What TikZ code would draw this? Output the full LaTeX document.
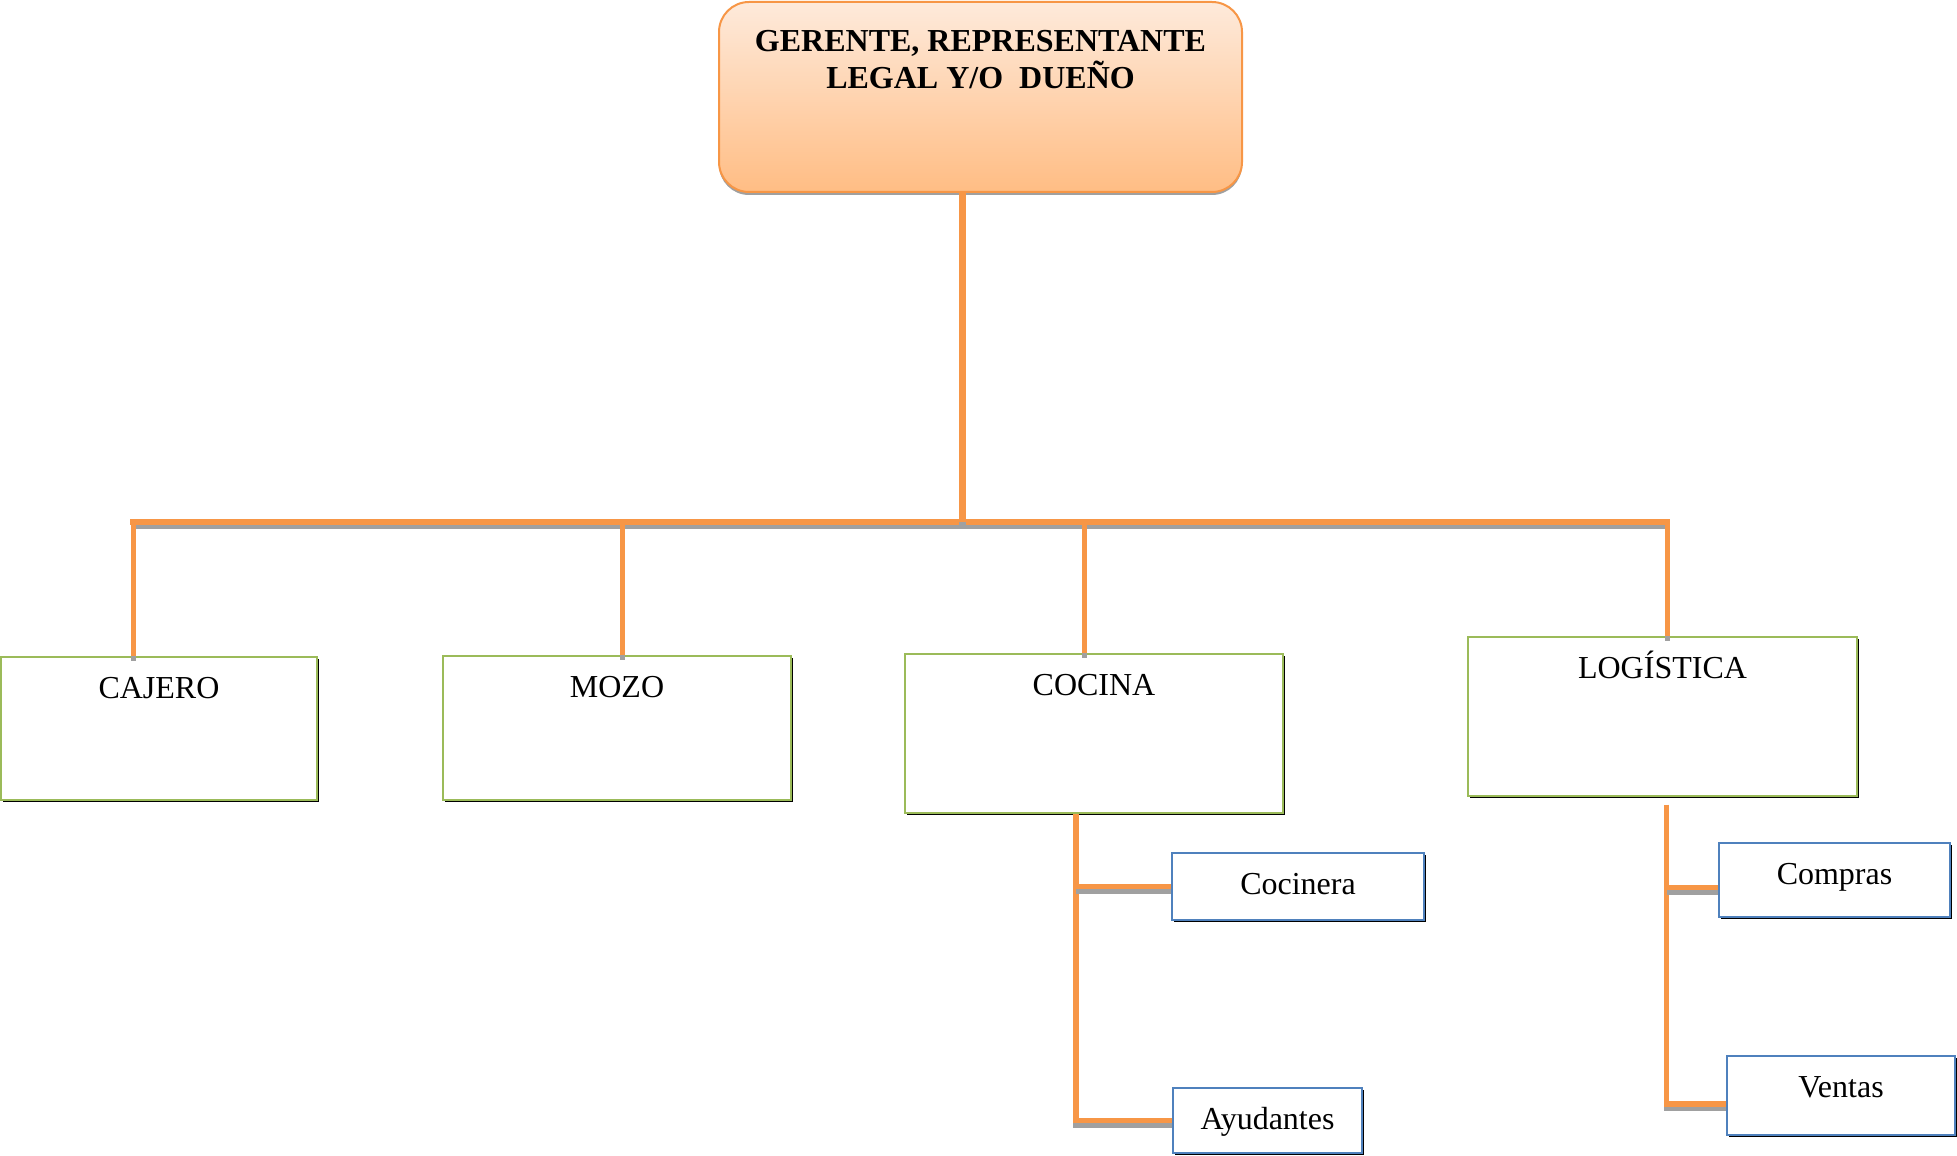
\documentclass[tikz,border=0pt]{standalone}
\usepackage{fontspec}
\setmainfont{Liberation Serif}
\usetikzlibrary{shadows}
\definecolor{orng}{HTML}{F79646}
\definecolor{shd}{HTML}{A0A0A0}
\definecolor{grn}{HTML}{9BBB59}
\definecolor{blu}{HTML}{4F81BD}
\definecolor{peachtop}{HTML}{FEEADB}
\definecolor{peachbot}{HTML}{FFBD84}
\begin{document}
\begin{tikzpicture}[x=0.5pt,y=-0.5pt,
  every label/.style={inner sep=0pt, font=\fontsize{16pt}{18pt}\selectfont},
  topbox/.style={draw=orng, line width=1pt, rounded corners=15pt,
    top color=peachtop, bottom color=peachbot,
    minimum width=261.5pt, minimum height=95pt, inner sep=0pt,
    drop shadow={shadow xshift=0pt, shadow yshift=-1.5pt, fill=shd, opacity=1}},
  unitbox/.style={draw=grn, line width=0.7pt, fill=white, inner sep=0pt,
    drop shadow={shadow xshift=1.2pt, shadow yshift=-1.2pt, fill=black, opacity=1}},
  subbox/.style={unitbox, draw=blu},
  ttl/.style={label={[anchor=base, yshift=-21pt]north:{#1}}},
  conn/.style={draw=orng, line width=#1,
    preaction={draw=shd, line width=#1, transform canvas={yshift=-2.2pt}}}
]
\useasboundingbox (0,0) rectangle (1957,1155);

% boxes
\node[topbox, label={[anchor=north, yshift=-14.5pt, align=center,
    font=\bfseries\fontsize{16pt}{18.5pt}\selectfont]north:{GERENTE, REPRESENTANTE\\LEGAL Y/O\ \ DUEÑO}}]
  (ger) at (980.5,97) {};
\node[unitbox, minimum width=158pt, minimum height=71.5pt, ttl=CAJERO] (caj) at (159,728.5) {};
\node[unitbox, minimum width=174pt, minimum height=72pt, ttl=MOZO] (moz) at (617,728) {};
\node[unitbox, minimum width=189pt, minimum height=79.5pt, ttl=COCINA] (coc) at (1094,733.5) {};
\node[unitbox, minimum width=194.5pt, minimum height=79.5pt, ttl=LOGÍSTICA] (log) at (1662.5,716.5) {};
\node[subbox, minimum width=126pt, minimum height=33.5pt, ttl=Cocinera] (cocinera) at (1298,886.5) {};
\node[subbox, minimum width=94.5pt, minimum height=32.5pt, ttl=Ayudantes] (ayud) at (1267.5,1120.5) {};
\node[subbox, minimum width=115.5pt, minimum height=37pt, ttl=Compras] (comp) at (1834.5,880) {};
\node[subbox, minimum width=114pt, minimum height=39.5pt, ttl=Ventas] (vent) at (1841,1095.5) {};

% reference points
\coordinate (bus) at (0,522);
\coordinate (gv) at ([xshift=-9.25pt]ger.south);
\coordinate (d1) at ([xshift=-13pt]caj.north);
\coordinate (d2) at ([xshift=2.5pt]moz.north);
\coordinate (d3) at ([xshift=-5pt]coc.north);
\coordinate (d4) at ([xshift=2.25pt]log.north);
\coordinate (cv) at ([xshift=-9pt]coc.south);
\coordinate (lv) at ([xshift=2pt,yshift=-4pt]log.south);
\coordinate (compin) at ([yshift=-3.75pt]comp.west);
\coordinate (ventin) at ([yshift=-4.25pt]vent.west);

% connectors
\draw[conn=2.9pt, line cap=rect] (d1 |- bus) -- (d4 |- bus);
\draw[conn=3.5pt] (gv) -- (gv |- bus);
\draw[conn=2.5pt] (d1 |- bus) -- (d1);
\draw[conn=2.5pt] (d2 |- bus) -- (d2);
\draw[conn=2.5pt] (d3 |- bus) -- (d3);
\draw[conn=2.5pt] (d4 |- bus) -- (d4);

\draw[conn=2.6pt] (cv) |- (ayud.west);
\draw[conn=2.6pt] (cv |- cocinera.west) -- (cocinera.west);
\draw[conn=2.6pt] (lv) |- (ventin);
\draw[conn=2.6pt] (lv |- compin) -- (compin);
\end{tikzpicture}
\end{document}
